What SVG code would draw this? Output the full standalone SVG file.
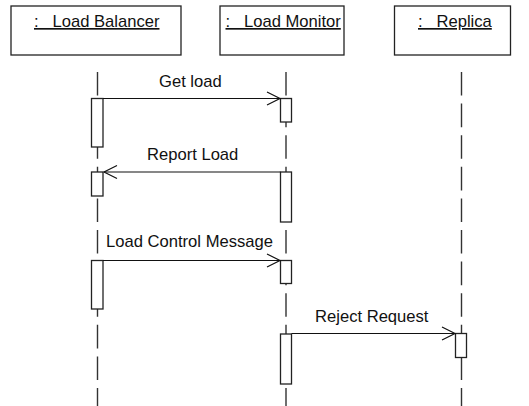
<svg xmlns="http://www.w3.org/2000/svg" width="529" height="406" viewBox="0 0 529 406">
  <style>
    .obj { fill: #ffffff; stroke: #222222; stroke-width: 1.3; }
    .lbl { font-family: "Liberation Sans", Arial, sans-serif; font-size: 16.6px; fill: #111111; }
    .hdr { text-decoration: underline; white-space: pre; }
    .life { stroke: #333333; stroke-width: 1.4; stroke-dasharray: 23.6 8; fill: none; }
    .act { fill: #ffffff; stroke: #222222; stroke-width: 1.3; }
    .msg { stroke: #111111; stroke-width: 1.2; fill: none; marker-end: url(#open); }
  </style>
  <defs>
    <marker id="open" markerUnits="userSpaceOnUse" markerWidth="20" markerHeight="20" viewBox="-15 -10 17 20" refX="0" refY="0" orient="auto">
      <path d="M-13,-6.5 L0,0 L-13,6.5" fill="none" stroke="#111111" stroke-width="1.2"/>
    </marker>
  </defs>
  <rect width="529" height="406" fill="#ffffff"/>

  <g id="lifelines">
    <line class="life" x1="97.5" y1="72" x2="97.5" y2="406"/>
    <line class="life" x1="286" y1="72" x2="286" y2="406"/>
    <line class="life" x1="461.5" y1="72" x2="461.5" y2="406"/>
  </g>

  <g id="load-balancer">
    <rect class="obj" x="11" y="6" width="170" height="49"/>
    <text class="lbl hdr" x="34" y="27" xml:space="preserve">:   Load Balancer</text>
  </g>
  <g id="load-monitor">
    <rect class="obj" x="220" y="6" width="124" height="49"/>
    <text class="lbl hdr" x="225.5" y="27" xml:space="preserve">:   Load Monitor</text>
  </g>
  <g id="replica">
    <rect class="obj" x="394.5" y="6" width="116" height="49"/>
    <text class="lbl hdr" x="418" y="27" xml:space="preserve">:   Replica</text>
  </g>

  <g id="activations">
    <rect class="act" x="91.5" y="98.5" width="11.5" height="48.5"/>
    <rect class="act" x="91.5" y="172" width="11.5" height="24"/>
    <rect class="act" x="91.5" y="260.5" width="11.5" height="48.5"/>
    <rect class="act" x="280.5" y="98.5" width="11" height="23.5"/>
    <rect class="act" x="280.5" y="172" width="11" height="50"/>
    <rect class="act" x="280.5" y="260.5" width="11" height="23"/>
    <rect class="act" x="280.5" y="334" width="11" height="50"/>
    <rect class="act" x="455.5" y="333.5" width="11" height="24"/>
  </g>

  <g id="connectors">
    <line class="msg" x1="103" y1="98.5" x2="280" y2="98.5"/>
    <line class="msg" x1="280.5" y1="172" x2="104" y2="172"/>
    <line class="msg" x1="103" y1="260.5" x2="280" y2="260.5"/>
    <line class="msg" x1="291.5" y1="333.5" x2="455" y2="333.5"/>
  </g>

  <g id="labels">
    <text class="lbl" x="159" y="86.5">Get load</text>
    <text class="lbl" x="147" y="160.3">Report Load</text>
    <text class="lbl" x="106" y="247.3">Load Control Message</text>
    <text class="lbl" x="315" y="321.7">Reject Request</text>
  </g>
</svg>
